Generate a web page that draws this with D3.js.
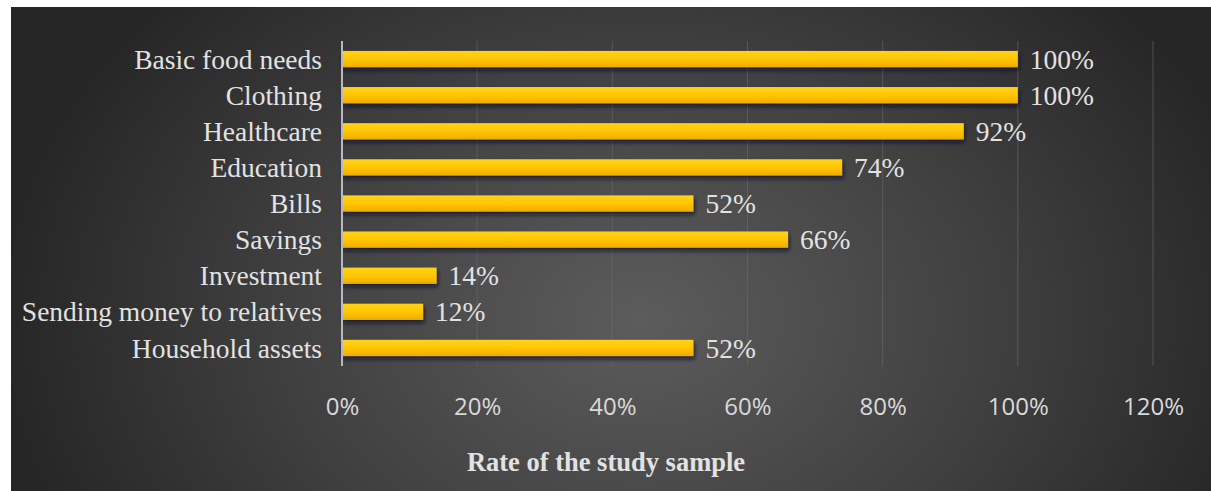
<!DOCTYPE html>
<html><head><meta charset="utf-8">
<script src="https://cdn.jsdelivr.net/npm/d3@7/dist/d3.min.js"></script>
<style>html,body{margin:0;padding:0;background:#fff;overflow:hidden}</style>
</head><body>
<script>
const categories = ["Basic food needs","Clothing","Healthcare","Education","Bills","Savings","Investment","Sending money to relatives","Household assets"];
const values = [100,100,92,74,52,66,14,12,52];
const tickValues = [0,20,40,60,80,100,120];
const axisTitle = "Rate of the study sample";

const W = 1211, H = 491;
const svg = d3.select("body").append("svg").attr("width", W).attr("height", H);
const defs = svg.append("defs");

const bg = defs.append("radialGradient").attr("id","bg")
  .attr("gradientUnits","userSpaceOnUse").attr("cx",640).attr("cy",320).attr("r",640)
  .attr("gradientTransform","translate(640,320) scale(1,0.75) translate(-640,-320)");
bg.append("stop").attr("offset","0%").attr("stop-color","#5c5c5c");
bg.append("stop").attr("offset","55%").attr("stop-color","#404040");
bg.append("stop").attr("offset","100%").attr("stop-color","#262626");

const bar = defs.append("linearGradient").attr("id","bar").attr("x1",0).attr("y1",0).attr("x2",0).attr("y2",1);
bar.append("stop").attr("offset","0%").attr("stop-color","#ffd21a");
bar.append("stop").attr("offset","50%").attr("stop-color","#ffc600");
bar.append("stop").attr("offset","100%").attr("stop-color","#eeac00");

const sh = defs.append("filter").attr("id","sh").attr("x","-5%").attr("y","-50%").attr("width","110%").attr("height","250%");
sh.append("feDropShadow").attr("dx",1).attr("dy",3).attr("stdDeviation",2).attr("flood-color","#101030").attr("flood-opacity",0.8);

svg.append("rect").attr("x",11).attr("y",7).attr("width",W-11).attr("height",H-7).attr("fill","url(#bg)");

const x = d3.scaleLinear().domain([0,120]).range([342,1153]);
const y = d3.scaleBand().domain(categories).range([41,366]).paddingInner(0.55).paddingOuter(0.275);

const serif = "'Liberation Serif','Times New Roman',serif";

// gridlines
svg.append("g").selectAll("line").data(tickValues.filter(d=>d>0)).join("line")
  .attr("x1",d=>x(d)).attr("x2",d=>x(d)).attr("y1",41).attr("y2",366)
  .attr("stroke","#6a6a6a").attr("stroke-width",1).attr("opacity",0.6);

// bars
svg.append("g").selectAll("rect").data(categories).join("rect")
  .attr("x",x(0)).attr("y",d=>y(d)).attr("width",(d,i)=>x(values[i])-x(0)).attr("height",y.bandwidth())
  .attr("fill","url(#bar)").attr("filter","url(#sh)");

// axis line
svg.append("line").attr("x1",x(0)).attr("x2",x(0)).attr("y1",41).attr("y2",366)
  .attr("stroke","#b8b8c0").attr("stroke-width",2);

// category labels
svg.append("g").selectAll("text").data(categories).join("text")
  .attr("x",322).attr("y",d=>y(d)+y.bandwidth()/2).attr("dy","0.35em")
  .attr("text-anchor","end").attr("fill","#e2e2e2")
  .style("font-family",serif).style("font-size","27.5px")
  .text(d=>d);

// value labels
svg.append("g").selectAll("text").data(categories).join("text")
  .attr("x",(d,i)=>x(values[i])+12).attr("y",d=>y(d)+y.bandwidth()/2).attr("dy","0.35em")
  .attr("fill","#e2e2e2")
  .style("font-family",serif).style("font-size","27.5px")
  .text((d,i)=>values[i]+"%");

// x axis
const xAxis = d3.axisBottom(x).tickValues(tickValues).tickFormat(d=>d+"%").tickSize(0).tickPadding(0);
const ax = svg.append("g").attr("transform","translate(0,400)").call(xAxis);
ax.select(".domain").remove();
ax.selectAll("text").attr("fill","#d9d9d9").attr("dy","0.35em").attr("y",7)
  .style("font-family","'Open Sans',sans-serif").style("font-size","24px");

svg.append("text").attr("x",606).attr("y",462).attr("dy","0.35em").attr("text-anchor","middle")
  .attr("fill","#e2e2e2").style("font-family",serif)
  .style("font-size","26.5px").style("font-weight","bold").text(axisTitle);
</script>
</body></html>
